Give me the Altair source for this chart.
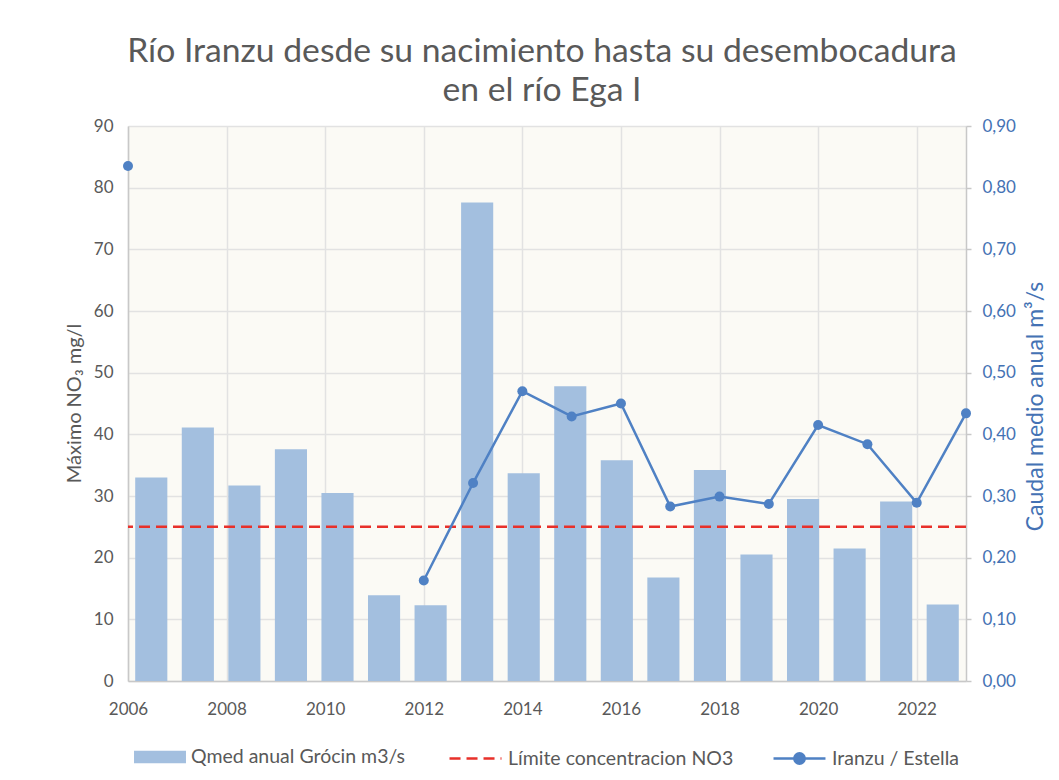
import altair as alt
import pandas as pd

# ---- data ----
years = list(range(2006, 2024))
qmed = [0.330, 0.411, 0.317, 0.376, 0.305, 0.139, 0.123, 0.776, 0.337,
        0.478, 0.358, 0.168, 0.342, 0.205, 0.295, 0.215, 0.291, 0.124]
no3 = [83.5, None, None, None, None, None, 16.3, 32.1, 47.0,
       42.9, 45.0, 28.3, 29.9, 28.7, 41.5, 38.4, 28.9, 43.4]
limit_value = [25]
x_tick_years = [2006, 2008, 2010, 2012, 2014, 2016, 2018, 2020, 2022]
left_ticks = [0, 10, 20, 30, 40, 50, 60, 70, 80, 90]
right_ticks = [0.0, 0.1, 0.2, 0.3, 0.4, 0.5, 0.6, 0.7, 0.8, 0.9]

S1 = "Qmed anual Grócin m3/s"
S2 = "Límite concentracion NO3"
S3 = "Iranzu / Estella"

BAR = "#A3BFDF"
RED = "#E8302A"
BLUE = "#4F81C4"
GRAY = "#595959"
AXBLUE = "#4472B4"
FONT = "Lato"

bars_df = pd.DataFrame({"year": years, "qmed": qmed, "s1": S1})

# line segments (break where there is no value)
seg, cur, prev_none = [], 0, False
for v in no3:
    if v is None:
        prev_none = True
    else:
        if prev_none:
            cur += 1
        prev_none = False
    seg.append(cur)
line_df = pd.DataFrame({"year": years, "no3": no3, "seg": seg, "s3": S3}).dropna()
limit_df = pd.DataFrame({"limit": limit_value, "s2": S2})

rect_path = "M-1,-0.24H1V0.24H-1Z"
line_path = "M-1,0H1"
dot_path = "M-1,0H1M-0.2,0A0.2,0.2,0,1,1,0.2,0A0.2,0.2,0,1,1,-0.2,0Z"

leg_common = dict(orient="none", direction="horizontal", title=None,
                  symbolSize=2700, labelFont=FONT, labelFontSize=19.5,
                  labelColor=GRAY, labelOffset=5, legendY=605, labelLimit=400)

bars = alt.Chart(bars_df).mark_bar().encode(
    x=alt.X("year:O", axis=None,
            scale=alt.Scale(paddingInner=0.31, paddingOuter=0.155)),
    y=alt.Y("qmed:Q",
            scale=alt.Scale(domain=[0, 0.9], nice=False, zero=True),
            axis=alt.Axis(orient="right", values=right_ticks, grid=False,
                          labelExpr="replace(format(datum.value, '.2f'), '.', ',')",
                          labelColor=AXBLUE, titleColor=AXBLUE,
                          title="Caudal medio anual m³/s", titleFontSize=23,
                          ticks=True, tickSize=5, tickColor="#C8C8C8", tickWidth=1.5,
                          labelPadding=11, titleAngle=-90, titleBaseline="top",
                          titleX=58, titleY=280, titleAlign="center")),
    fill=alt.Fill("s1:N", scale=alt.Scale(domain=[S1], range=[BAR]),
                  legend=alt.Legend(legendX=6, symbolType=rect_path,
                                    symbolStrokeWidth=0, symbolOpacity=1, **leg_common)),
)

xq = alt.X("year:Q",
           scale=alt.Scale(domain=[2006, 2023], nice=False, zero=False),
           axis=alt.Axis(values=x_tick_years, format="d", grid=True, ticks=False,
                         labelPadding=20, title=None, labelFlush=False))
yq_scale = alt.Scale(domain=[0, 90], nice=False, zero=True)
yq_axis = alt.Axis(values=left_ticks, grid=True, ticks=False, labelPadding=15,
                   title="Máximo NO₃ mg/l", titleColor=GRAY, labelColor=GRAY,
                   titleAngle=-90, titleBaseline="bottom", titleX=-44, titleY=277,
                   titleAlign="center")

rule = alt.Chart(limit_df).mark_rule(color=RED, strokeWidth=2.5).encode(
    y=alt.Y("limit:Q", scale=yq_scale, axis=yq_axis),
    strokeDash=alt.StrokeDash("s2:N", scale=alt.Scale(domain=[S2], range=[[11, 6]]),
                              legend=alt.Legend(legendX=320, symbolType=line_path,
                                                symbolStrokeColor=RED,
                                                symbolStrokeWidth=2.5, **leg_common)),
)

line = alt.Chart(line_df).mark_line(strokeWidth=2.5, color=BLUE).encode(
    x=xq,
    y=alt.Y("no3:Q", scale=yq_scale, axis=yq_axis),
    detail="seg:N",
    opacity=alt.Opacity("s3:N", scale=alt.Scale(domain=[S3], range=[1]),
                        legend=alt.Legend(legendX=644, symbolType=dot_path,
                                          symbolFillColor=BLUE,
                                          symbolStrokeColor=BLUE,
                                          symbolStrokeWidth=2.5, **leg_common)),
)

points = alt.Chart(line_df).mark_circle(size=100, color=BLUE, opacity=1).encode(
    x=xq,
    y=alt.Y("no3:Q", scale=yq_scale, axis=yq_axis),
)

left_layer = alt.layer(rule, line, points)

chart = alt.layer(bars, left_layer).resolve_scale(
    x="independent", y="independent"
).properties(
    width=838, height=555,
    background="white",
    padding={"left": 120, "top": 118, "right": 85, "bottom": 91},
    autosize=alt.AutoSizeParams(type="none"),
    title=alt.TitleParams(
        text=["Río Iranzu desde su nacimiento hasta su desembocadura", "en el río Ega I"],
        font=FONT, fontSize=33.7, fontWeight="normal", color=GRAY,
        anchor="middle", lineHeight=39, offset=9, dx=-5,
    ),
).configure_view(
    fill="#FBFAF5", stroke=None,
).configure_axis(
    labelFont=FONT, labelFontSize=17, titleFont=FONT, titleFontSize=20,
    titleFontWeight="normal", labelColor=GRAY,
    gridColor="#E2E2E2", gridWidth=1.5,
    domainColor="#C8C8C8", domainWidth=1.5,
)

chart.save("out.html", embed_options={"renderer": "svg", "actions": False})
